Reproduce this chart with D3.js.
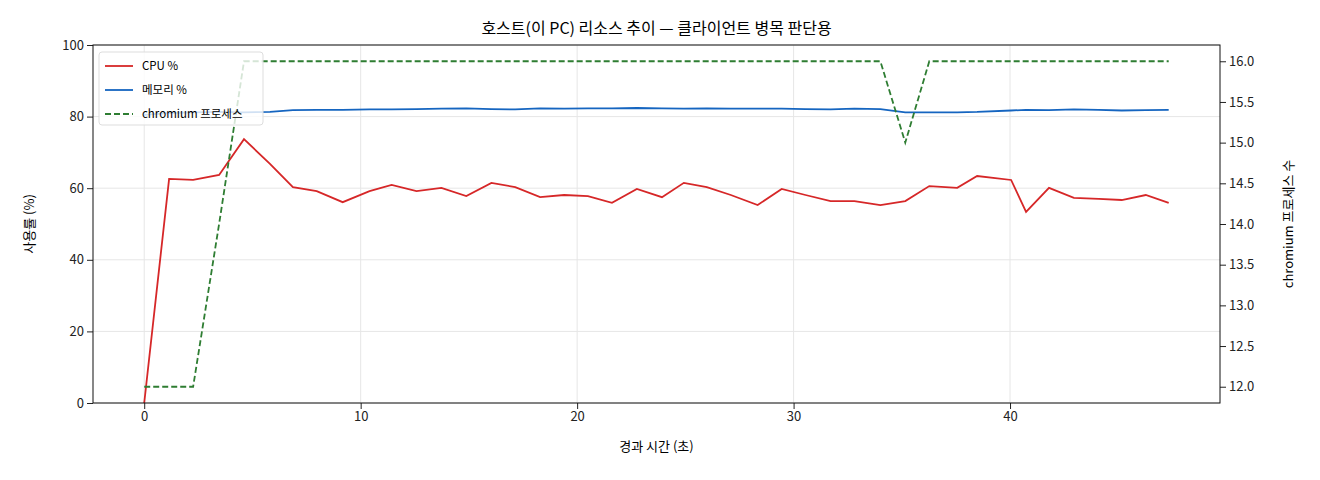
<!DOCTYPE html>
<html><head><meta charset="utf-8">
<script src="https://cdn.jsdelivr.net/npm/d3@7"></script>
<style>body{margin:0;background:#fff}text{font-family:"Noto Sans CJK KR","DejaVu Sans",sans-serif}</style>
</head><body><svg id="c" width="1320" height="480"></svg>
<script>
const times=[0,1.15,2.26,3.46,4.61,5.81,6.87,7.97,9.17,10.41,11.43,12.58,13.73,14.88,16.04,17.14,18.29,19.4,20.5,21.61,22.76,23.92,24.93,25.99,27.1,28.34,29.45,30.55,31.71,32.81,34.01,35.16,36.27,37.56,38.48,40.05,40.74,41.8,42.95,44.1,45.16,46.27,47.33];
const cpu=[0,62.6,62.3,63.7,73.7,66.8,60.3,59.2,56.1,59.2,60.9,59.2,60.1,57.8,61.5,60.3,57.5,58.1,57.8,55.9,59.8,57.5,61.5,60.3,58.1,55.3,59.8,58.1,56.4,56.4,55.3,56.4,60.6,60.1,63.4,62.3,53.4,60.1,57.3,57.0,56.7,58.1,55.9];
const mem=[80.5,81.0,81.2,81.3,81.2,81.3,81.8,81.9,81.9,82.0,82.0,82.1,82.2,82.3,82.1,82.0,82.3,82.2,82.3,82.3,82.4,82.3,82.2,82.3,82.2,82.2,82.2,82.1,82.0,82.2,82.1,81.2,81.2,81.2,81.3,81.7,81.9,81.8,82.0,81.9,81.7,81.8,81.9];
const procs=[12,12,12,14,16,16,16,16,16,16,16,16,16,16,16,16,16,16,16,16,16,16,16,16,16,16,16,16,16,16,16,15,16,16,16,16,16,16,16,16,16,16,16];
const xTicks=[0,10,20,30,40], yTicks=[0,20,40,60,80,100], y2Ticks=[12,12.5,13,13.5,14,14.5,15,15.5,16];
const L=93,R=1220,T=45,B=403;
const svg=d3.select("#c");
const x=d3.scaleLinear().domain([-2.366,49.7]).range([L,R]);
const y=d3.scaleLinear().domain([0,100]).range([B,T]);
const y2=d3.scaleLinear().domain([11.8,16.2]).range([B,T]);
const g=svg.append("g");
g.selectAll(".gx").data(xTicks).join("line").attr("x1",d=>x(d)).attr("x2",d=>x(d)).attr("y1",T).attr("y2",B).attr("stroke","#e6e6e6");
g.selectAll(".gy").data(yTicks).join("line").attr("y1",d=>y(d)).attr("y2",d=>y(d)).attr("x1",L).attr("x2",R).attr("stroke","#e6e6e6");
const ln=(ys,sc)=>d3.line().x((d,i)=>x(times[i])).y(d=>sc(d))(ys);
svg.append("path").attr("d",ln(cpu,y)).attr("fill","none").attr("stroke","#d62728").attr("stroke-width",1.8);
svg.append("path").attr("d",ln(mem,y)).attr("fill","none").attr("stroke","#1565c0").attr("stroke-width",1.8);
svg.append("path").attr("d",ln(procs,y2)).attr("fill","none").attr("stroke","#2e7d32").attr("stroke-width",1.8).attr("stroke-dasharray","6,3");
const ax=svg.append("g").attr("transform",`translate(0,${B})`).call(d3.axisBottom(x).tickValues(xTicks).tickSizeOuter(0));
const ay=svg.append("g").attr("transform",`translate(${L},0)`).call(d3.axisLeft(y).tickValues(yTicks).tickSizeOuter(0));
const ay2=svg.append("g").attr("transform",`translate(${R},0)`).call(d3.axisRight(y2).tickValues(y2Ticks).tickFormat(d3.format(".1f")).tickSizeOuter(0));
[ax,ay,ay2].forEach(a=>{a.selectAll("text").attr("font-size",13).attr("fill","#222");a.select(".domain").remove();a.selectAll("line").attr("stroke","#222");});
svg.append("rect").attr("x",L).attr("y",T).attr("width",R-L).attr("height",B-T).attr("fill","none").attr("stroke","#111").attr("stroke-width",1);
svg.append("text").attr("x",(L+R)/2).attr("y",34).attr("text-anchor","middle").attr("font-size",16).text("호스트(이 PC) 리소스 추이 — 클라이언트 병목 판단용");
svg.append("text").attr("x",(L+R)/2).attr("y",451).attr("text-anchor","middle").attr("font-size",13).text("경과 시간 (초)");
svg.append("text").attr("transform",`translate(34,${(T+B)/2}) rotate(-90)`).attr("text-anchor","middle").attr("font-size",13).text("사용률 (%)");
svg.append("text").attr("transform",`translate(1293,${(T+B)/2}) rotate(-90)`).attr("text-anchor","middle").attr("font-size",13).text("chromium 프로세스 수");
const lg=svg.append("g").attr("transform","translate(99,52)");
lg.append("rect").attr("width",164).attr("height",73).attr("rx",3).attr("fill","rgba(255,255,255,0.8)").attr("stroke","#ddd");
const items=[["CPU %","#d62728",null],["메모리 %","#1565c0",null],["chromium 프로세스","#2e7d32","6,3"]];
items.forEach((it,i)=>{const yy=14+i*24;
lg.append("line").attr("x1",6).attr("x2",34).attr("y1",yy).attr("y2",yy).attr("stroke",it[1]).attr("stroke-width",1.8).attr("stroke-dasharray",it[2]);
lg.append("text").attr("x",43).attr("y",yy+4).attr("font-size",11.5).text(it[0]);});
</script></body></html>
